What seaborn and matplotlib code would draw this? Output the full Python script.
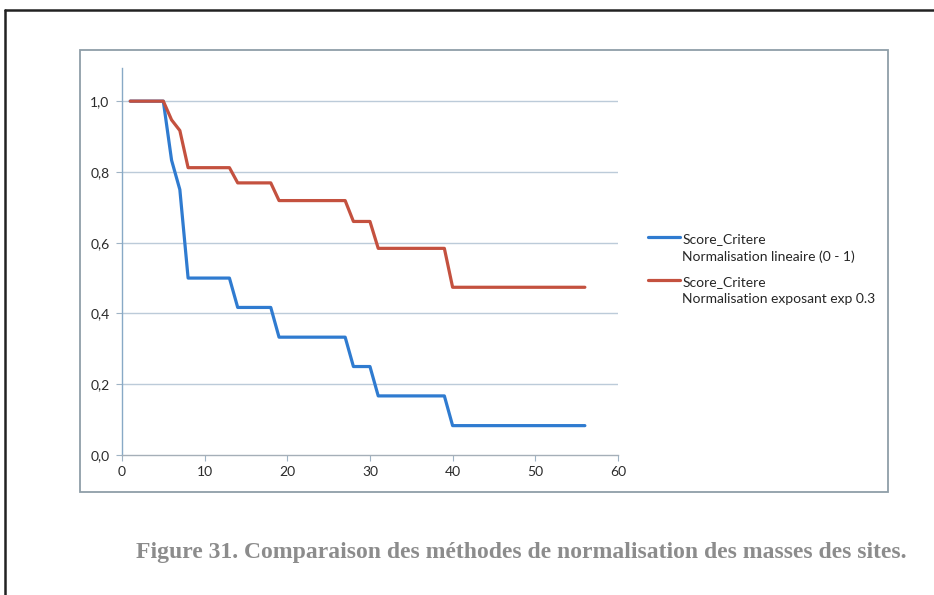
"""Comparaison des méthodes de normalisation (Score_Critere)."""

import matplotlib

matplotlib.use("Agg")
import matplotlib.pyplot as plt
import pandas as pd
import seaborn as sns
from matplotlib.legend_handler import HandlerLine2D
from matplotlib.lines import Line2D
from matplotlib.patches import Rectangle

# --- data ------------------------------------------------------------------
sites = list(range(1, 57))

score_lineaire = [
    1.0, 1.0, 1.0, 1.0, 1.0, 0.833, 0.75,
    0.5, 0.5, 0.5, 0.5, 0.5, 0.5,
    0.417, 0.417, 0.417, 0.417, 0.417,
    0.333, 0.333, 0.333, 0.333, 0.333, 0.333, 0.333, 0.333, 0.333,
    0.25, 0.25, 0.25,
    0.167, 0.167, 0.167, 0.167, 0.167, 0.167, 0.167, 0.167, 0.167,
    0.083, 0.083, 0.083, 0.083, 0.083, 0.083, 0.083, 0.083, 0.083,
    0.083, 0.083, 0.083, 0.083, 0.083, 0.083, 0.083, 0.083,
]

score_exposant = [
    1.0, 1.0, 1.0, 1.0, 1.0, 0.947, 0.917,
    0.812, 0.812, 0.812, 0.812, 0.812, 0.812,
    0.769, 0.769, 0.769, 0.769, 0.769,
    0.719, 0.719, 0.719, 0.719, 0.719, 0.719, 0.719, 0.719, 0.719,
    0.660, 0.660, 0.660,
    0.584, 0.584, 0.584, 0.584, 0.584, 0.584, 0.584, 0.584, 0.584,
    0.474, 0.474, 0.474, 0.474, 0.474, 0.474, 0.474, 0.474, 0.474,
    0.474, 0.474, 0.474, 0.474, 0.474, 0.474, 0.474, 0.474,
]

labels = [
    "Score_Critere\nNormalisation lineaire (0 - 1)",
    "Score_Critere\nNormalisation exposant exp 0.3",
]
colors = ["#2f7bd0", "#c4513f"]

x_ticks = [0, 10, 20, 30, 40, 50, 60]
y_ticks = [0.0, 0.2, 0.4, 0.6, 0.8, 1.0]
y_ticklabels = ["0,0", "0,2", "0,4", "0,6", "0,8", "1,0"]

caption = "Figure 31. Comparaison des méthodes de normalisation des masses des sites."


class FirstLineHandler(HandlerLine2D):
    """Put the legend line level with the first text line (Excel style)."""

    def create_artists(self, legend, orig_handle, xdescent, ydescent,
                       width, height, fontsize, trans):
        artists = super().create_artists(legend, orig_handle, xdescent, ydescent,
                                         width, height, fontsize, trans)
        for a in artists:
            a.set_ydata([y + 0.8 * fontsize for y in a.get_ydata()])
        return artists


def main() -> None:
    sns.set_theme(style="white")
    plt.rcParams["font.family"] = ["Lato", "DejaVu Sans"]

    df = pd.DataFrame({
        "site": sites * 2,
        "score": score_lineaire + score_exposant,
        "serie": [labels[0]] * len(sites) + [labels[1]] * len(sites),
    })

    fig = plt.figure(figsize=(9.34, 5.95), dpi=100)
    ax = fig.add_axes([0.1306, 0.2353, 0.531, 0.650])

    sns.lineplot(data=df, x="site", y="score", hue="serie", palette=colors,
                 linewidth=2.3, legend=False, ax=ax)

    ax.set_xlim(0, 60)
    ax.set_ylim(0, 1.093)
    ax.set_xticks(x_ticks)
    ax.set_yticks(y_ticks)
    ax.set_yticklabels(y_ticklabels)
    ax.set_xlabel("")
    ax.set_ylabel("")
    ax.tick_params(axis="both", which="major", direction="out", length=4,
                   width=0.8, colors="#9fb3c4", labelcolor="#2b2b2b",
                   labelsize=10)
    ax.tick_params(axis="y", pad=5, left=True)
    ax.tick_params(axis="x", pad=4, bottom=True)

    for y in y_ticks[1:]:
        ax.axhline(y, color="#bccbd9", linewidth=1.0, zorder=0)

    for side in ["top", "right"]:
        ax.spines[side].set_visible(False)
    ax.spines["left"].set_color("#88a9c6")
    ax.spines["bottom"].set_color("#a5afb8")
    ax.spines["left"].set_linewidth(1.0)
    ax.spines["bottom"].set_linewidth(1.0)

    handles = ax.get_lines()[:2]
    leg = ax.legend(handles, labels, loc="upper left",
                    bbox_to_anchor=(0.694, 0.608), bbox_transform=fig.transFigure,
                    frameon=False, fontsize=10, handlelength=2.3,
                    handletextpad=0.15, labelspacing=1.0, borderpad=0,
                    borderaxespad=0, handler_map={Line2D: FirstLineHandler()})
    for t in leg.get_texts():
        t.set_linespacing(1.45)

    # chart frame and page border, as in the source document
    fig.add_artist(Rectangle((0.0857, 0.173), 0.8653, 0.743,
                             transform=fig.transFigure, fill=False,
                             edgecolor="#8f9ea8", linewidth=1.3))
    fig.add_artist(Line2D([0.0054, 1.0], [0.983, 0.983],
                          transform=fig.transFigure, color="#222222",
                          linewidth=1.8))
    fig.add_artist(Line2D([0.0054, 0.0054], [0.0, 0.983],
                          transform=fig.transFigure, color="#222222",
                          linewidth=1.8))

    fig.text(0.558, 0.0706, caption, ha="center", va="center",
             family=["Liberation Serif", "DejaVu Serif"], weight="bold",
             fontsize=17, color="#8c8c8c")

    fig.savefig("out.png", dpi=100, facecolor="white")


if __name__ == "__main__":
    main()
